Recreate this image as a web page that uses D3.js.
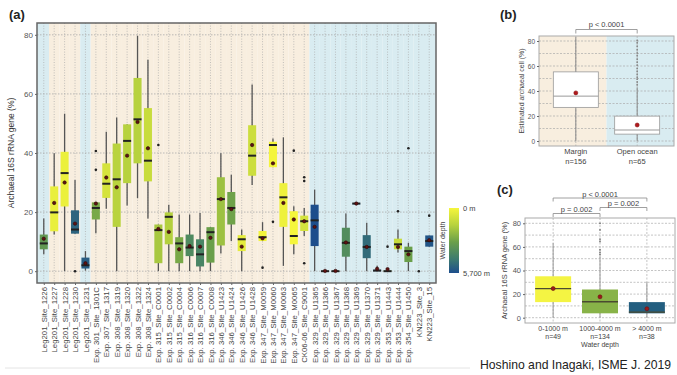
<!DOCTYPE html>
<html>
<head>
<meta charset="utf-8">
<script src="https://cdn.jsdelivr.net/npm/d3@7"></script>
<style>
  body { margin: 0; background: #fff; }
  text { font-family: "Liberation Sans", Arial, sans-serif; }
</style>
</head>
<body>
<svg id="chart" width="677" height="375"></svg>
<script>
// ---- panel (a) data: one entry per site ----
const sites = ["Leg201_Site_1226", "Leg201_Site_1227", "Leg201_Site_1228", "Leg201_Site_1230", "Leg201_Site_1231",
  "Exp. 301_Site_1301C", "Exp. 307_Site_1317", "Exp. 308_Site_1319", "Exp. 308_Site_1320", "Exp. 308_Site_1322",
  "Exp. 308_Site_1324", "Exp. 315_Site_C0001", "Exp. 315_Site_C0002", "Exp. 315_Site_C0004", "Exp. 316_Site_C0006",
  "Exp. 316_Site_C0007", "Exp. 316_Site_C0008", "Exp. 346_Site_U1423", "Exp. 346_Site_U1424", "Exp. 346_Site_U1426",
  "Exp. 346_Site_U1428", "Exp. 347_Site_M0059", "Exp. 347_Site_M0060", "Exp. 347_Site_M0063", "Exp. 347_Site_M0065",
  "CK06-06_Site_C9001", "Exp. 329_Site_U1365", "Exp. 329_Site_U1366", "Exp. 329_Site_U1367", "Exp. 329_Site_U1368",
  "Exp. 329_Site_U1369", "Exp. 329_Site_U1370", "Exp. 329_Site_U1371", "Exp. 353_Site_U1443", "Exp. 353_Site_U1444",
  "Exp. 354_Site_U1450", "KN223_Site_3", "KN223_Site_15"];
const siteRegion = ["ocean", "margin", "margin", "margin", "ocean",
  "margin", "margin", "margin", "margin", "margin", "margin", "margin", "margin", "margin", "margin",
  "margin", "margin", "margin", "margin", "margin", "margin", "margin", "margin", "margin", "margin", "margin",
  "ocean", "ocean", "ocean", "ocean", "ocean", "ocean", "ocean", "ocean", "ocean", "ocean", "ocean", "ocean"];
const siteDepth = [3300, 300, 260, 5090, 5300, 2700, 780, 1450, 1500, 1500, 1100, 1800, 1550, 2700, 3870,
  4050, 3000, 2000, 2900, 400, 1000, 37, 40, 200, 20, 800, 5695, 5100, 4300, 3740, 5300, 4900, 5300, 2900,
  1100, 3000, 5000, 5500];
const siteLow = [5.7, 12.4, 0, 12.7, 0.2, 12.8, 21.1, 0, 22.2, 24.7, 17.8, 0, 0, 0, 0, 0, 0, 6, 10.2, 0,
  29.2, 10.2, 35.2, 1.8, 5.7, 11.9, 0, 0, 0, 0, 22.9, 0, 0, 0, 6.3, 0, null, 8.3];
const siteQ1 = [7.4, 13.5, 21.9, 12.7, 0.9, 17.5, 24.8, 15, 29.8, 36.5, 30.4, 2.7, 9.1, 2.7, 5.1, 1.6, 2.9, 8.7, 15.8, 6.8,
  32.3, 10.2, 35.2, 15, 9.1, 13.6, 8.5, 0, 0, 4.9, 22.9, 4.4, 0, 0, 7.4, 3.1, null, 8.3];
const siteMedian = [9.4, 19.9, 33.2, 14.1, 2, 21.4, 29.6, 31.1, 44.1, 51.4, 37.4, 13.9, 18.4, 9.4, 8, 5.7, 13.2, 24.4, 21.4, 10.8,
  39.1, 11.5, 42.7, 25, 11.9, 16.9, 17.2, 0, 0, 9.6, 22.9, 8.2, 0.2, 0, 9.1, 6.8, null, 10.2];
const siteQ3 = [12.4, 28.7, 40.4, 20.6, 4.6, 23.3, 36.5, 43.2, 49.7, 65.4, 55.2, 15.8, 19.9, 11.5, 12.4, 10.8, 14.9, 31.8, 26.8, 12.2,
  49.4, 13.6, 43.8, 29.8, 20.3, 18.8, 22.5, 0, 0, 14.7, 22.9, 12.2, 0.5, 0.2, 11, 8.3, null, 12.1];
const siteHigh = [17.8, 39.9, 53.3, 30.9, 6.8, 23.3, 47.2, 52, 49.7, 79.7, 71.6, 15.8, 22.5, 19.2, 19.2, 19.7, 14.9, 39.9, 32.6, 14.1,
  63.2, 16.6, 44.9, 45.3, 22, 21.4, 27.6, 0, 0, 19.5, 22.9, 16.4, 1.8, 0.2, 14.1, 9.6, null, 12.1];
const siteMean = [11, 23.1, 30, 16.1, 2.7, 22.9, 31.7, 28.4, 39.1, 50.5, 41.6, 14.3, 13.3, 7.4, 8.5, 8.3, 11.3, 24.4, 21, 8.3,
  42.7, 11.1, 36.5, 23.1, 17.5, 16.9, 15, 0.1, 0.1, 9.7, 22.9, 8.2, 0.8, 0.7, 8.2, 5.7, null, 10.5];
const siteOutliers = [[], [], [], [0], [], [40.7, 34.3], [], [], [], [], [], [42.7], [], [], [], [], [], [], [], [],
  [], [1.2], [16.7], [], [40.8], [30.5, 31.8, 2.7], [], [], [], [], [], [], [], [8.3], [20.3], [41.6], [0], [18.8]];

// ---- panel (b) data ----
const bGroups = ["Margin", "Open ocean"];
const bCounts = ["n=156", "n=65"];
const bLow = [0, 0];
const bQ1 = [26.9, 5.5];
const bMedian = [35.9, 8.8];
const bQ3 = [55.3, 19.9];
const bHigh = [83, 43];
const bMean = [38.5, 12.8];
const bOutliers = [[], [45, 47.2, 49.5, 51, 53.4, 55.8, 58.1, 60.6, 63, 65.5, 68.2, 70.4, 73.1, 75.9, 78.6, 80.5]];

// ---- panel (c) data ----
const cGroups = ["0-1000 m", "1000-4000 m", "> 4000 m"];
const cCounts = ["n=49", "n=134", "n=38"];
const cLow = [0, 0, 0];
const cQ1 = [13.2, 3.7, 3.7];
const cMedian = [24.7, 13.5, 4.8];
const cQ3 = [35.1, 23.9, 13.2];
const cHigh = [63.2, 52, 30];
const cMean = [24.7, 17.7, 7.6];
const cOutliers = [[], [53.4, 55.3, 57.6, 64.6, 66.6, 74.4, 80], []];
const cFill = ["#f4f443", "#88b348", "#235e80"];

const yTicks = [0, 20, 40, 60, 80];

const svg = d3.select("#chart");
const beige = "#f8eedf", blue = "#d9ecf1";

const depthColor = d3.scaleLinear()
  .domain([0, 1500, 3000, 4500, 5700])
  .range(["#f6f63c", "#b7d23e", "#6a9f4a", "#3c7a70", "#1d4e8c"]);

function drawBox(g, cx, w, y, s, st) {
  const b = g.append("g");
  b.append("line").attr("x1", cx).attr("x2", cx)
    .attr("y1", y(s.lo)).attr("y2", y(s.hi))
    .attr("stroke", st.whisker).attr("stroke-width", st.whiskerWidth);
  b.append("rect").attr("x", cx - w / 2).attr("width", w)
    .attr("y", y(s.q3)).attr("height", Math.max(y(s.q1) - y(s.q3), 0.8))
    .attr("fill", st.fill).attr("stroke", st.boxStroke || "none").attr("stroke-width", 0.8);
  b.append("line").attr("x1", cx - w / 2).attr("x2", cx + w / 2)
    .attr("y1", y(s.med)).attr("y2", y(s.med))
    .attr("stroke", st.median).attr("stroke-width", st.medianWidth);
  b.selectAll("circle.out").data(s.out).join("circle").attr("class", "out")
    .attr("cx", cx).attr("cy", d => y(d)).attr("r", st.outR).attr("fill", st.outFill);
  b.append("circle").attr("cx", cx).attr("cy", y(s.mean)).attr("r", st.meanR)
    .attr("fill", st.meanFill).attr("stroke", st.meanStroke).attr("stroke-width", 0.6);
}

function styleAxis(g, size) {
  g.select(".domain").remove();
  g.selectAll(".tick line").attr("stroke", "#666");
  g.selectAll(".tick text").attr("fill", "#555").attr("font-size", size);
}

// =================== panel (a) ===================
const A = { l: 37, r: 436, t: 23, b: 283 };
const xA = d3.scalePoint().domain(sites).range([A.l, A.r]).padding(0.65);
const yA = d3.scaleLinear().domain([-4, 84]).range([A.b, A.t]);
const stepA = xA.step();
const gA = svg.append("g");

gA.selectAll("rect.bg").data(sites).join("rect").attr("class", "bg")
  .attr("x", (d, i) => i === 0 ? A.l : xA(d) - stepA / 2)
  .attr("width", (d, i) => {
    const left = i === 0 ? A.l : xA(d) - stepA / 2;
    const right = i === sites.length - 1 ? A.r : xA(d) + stepA / 2;
    return right - left;
  })
  .attr("y", A.t).attr("height", A.b - A.t)
  .attr("fill", (d, i) => siteRegion[i] === "ocean" ? blue : beige);

gA.selectAll("line.vg").data(sites).join("line").attr("class", "vg")
  .attr("x1", d => xA(d)).attr("x2", d => xA(d)).attr("y1", A.t).attr("y2", A.b)
  .attr("stroke", "#a9a9a9").attr("stroke-width", 0.7).attr("stroke-dasharray", "1,1.6");
gA.selectAll("line.hg").data(yTicks).join("line").attr("class", "hg")
  .attr("x1", A.l).attr("x2", A.r).attr("y1", d => yA(d)).attr("y2", d => yA(d))
  .attr("stroke", "#a9a9a9").attr("stroke-width", 0.8).attr("stroke-dasharray", "1.5,1.5");

sites.forEach((s, i) => {
  const st = {
    whisker: "#555", whiskerWidth: 1.3, fill: depthColor(siteDepth[i]),
    median: "#222", medianWidth: 2, outR: 1.3, outFill: "#222",
    meanR: 1.7, meanFill: "#5e1212", meanStroke: "#2a0808"
  };
  if (siteMedian[i] === null) {
    siteOutliers[i].forEach(v => gA.append("circle").attr("cx", xA(s)).attr("cy", yA(v))
      .attr("r", 1.3).attr("fill", "#222"));
    return;
  }
  drawBox(gA, xA(s), stepA * 0.77, yA, {
    lo: siteLow[i], q1: siteQ1[i], med: siteMedian[i], q3: siteQ3[i], hi: siteHigh[i],
    mean: siteMean[i], out: siteOutliers[i]
  }, st);
});

gA.append("rect").attr("x", A.l).attr("y", A.t).attr("width", A.r - A.l).attr("height", A.b - A.t)
  .attr("fill", "none").attr("stroke", "#666").attr("stroke-width", 1.5);

const axA = gA.append("g").attr("transform", `translate(${A.l},0)`)
  .call(d3.axisLeft(yA).tickValues(yTicks).tickSize(2).tickPadding(2));
styleAxis(axA, 8);

const axAx = gA.append("g").attr("transform", `translate(0,${A.b})`)
  .call(d3.axisBottom(xA).tickSize(2));
axAx.select(".domain").remove();
axAx.selectAll(".tick line").attr("stroke", "#666");
axAx.selectAll(".tick text")
  .attr("transform", "rotate(-90)").attr("text-anchor", "end")
  .attr("x", -4).attr("y", 0).attr("dy", "0.33em")
  .attr("fill", "#444").attr("font-size", 7.8);

gA.append("text").attr("transform", `translate(14,${(A.t + A.b) / 2}) rotate(-90)`)
  .attr("text-anchor", "middle").attr("font-size", 8.5).attr("fill", "#333")
  .text("Archaeal 16S rRNA gene (%)");
gA.append("text").attr("x", 9).attr("y", 19).attr("font-size", 13).attr("font-weight", "bold")
  .attr("fill", "#222").text("(a)");

// separator line under the labels
svg.append("line").attr("x1", 5).attr("x2", 470).attr("y1", 368).attr("y2", 368)
  .attr("stroke", "#e4e4e4").attr("stroke-width", 1);

// colour legend
const defs = svg.append("defs");
const grad = defs.append("linearGradient").attr("id", "depthGrad")
  .attr("x1", 0).attr("x2", 0).attr("y1", 0).attr("y2", 1);
depthColor.domain().forEach(d => grad.append("stop")
  .attr("offset", d / 5700).attr("stop-color", depthColor(d)));
const L = { x: 449, y: 208, w: 10, h: 65 };
svg.append("rect").attr("x", L.x).attr("y", L.y).attr("width", L.w).attr("height", L.h)
  .attr("fill", "url(#depthGrad)");
svg.append("text").attr("x", L.x + L.w + 4).attr("y", L.y + 3).attr("font-size", 7.5)
  .attr("fill", "#444").text("0 m");
svg.append("text").attr("x", L.x + L.w + 4).attr("y", L.y + L.h + 3).attr("font-size", 7.5)
  .attr("fill", "#444").text("5,700 m");
svg.append("text").attr("transform", `translate(${L.x - 4},${L.y + L.h / 2}) rotate(-90)`)
  .attr("text-anchor", "middle").attr("font-size", 7).attr("fill", "#444").text("Water depth");

// =================== panel (b) ===================
const B = { l: 539, r: 674, t: 36, b: 146 };
const xB = d3.scalePoint().domain(bGroups).range([B.l, B.r]).padding(0.6);
const yB = d3.scaleLinear().domain([-4, 84]).range([B.b, B.t]);
const gB = svg.append("g");
const midB = (xB(bGroups[0]) + xB(bGroups[1])) / 2;
gB.append("rect").attr("x", B.l).attr("y", B.t).attr("width", midB - B.l).attr("height", B.b - B.t).attr("fill", beige);
gB.append("rect").attr("x", midB).attr("y", B.t).attr("width", B.r - midB).attr("height", B.b - B.t).attr("fill", blue);
gB.selectAll("line.hg").data(d3.range(0, 81, 10)).join("line").attr("class", "hg")
  .attr("x1", B.l).attr("x2", B.r).attr("y1", d => yB(d)).attr("y2", d => yB(d))
  .attr("stroke", "#aaa").attr("stroke-width", 0.7).attr("stroke-dasharray", "2,1.5");
gB.selectAll("line.vg").data(bGroups).join("line").attr("class", "vg")
  .attr("x1", d => xB(d)).attr("x2", d => xB(d)).attr("y1", B.t).attr("y2", B.b)
  .attr("stroke", "#aaa").attr("stroke-width", 0.7).attr("stroke-dasharray", "2,1.5");
bGroups.forEach((g, i) => {
  drawBox(gB, xB(g), 45, yB, {
    lo: bLow[i], q1: bQ1[i], med: bMedian[i], q3: bQ3[i], hi: bHigh[i], mean: bMean[i], out: bOutliers[i]
  }, {
    whisker: "#888", whiskerWidth: 1, fill: "#fff", boxStroke: "#999",
    median: "#999", medianWidth: 1, outR: 0.9, outFill: "#888",
    meanR: 2, meanFill: "#b0191c", meanStroke: "#8a1214"
  });
});
gB.append("rect").attr("x", B.l).attr("y", B.t).attr("width", B.r - B.l).attr("height", B.b - B.t)
  .attr("fill", "none").attr("stroke", "#aaa").attr("stroke-width", 1);
const axB = gB.append("g").attr("transform", `translate(${B.l},0)`)
  .call(d3.axisLeft(yB).tickValues(yTicks).tickSize(2).tickPadding(2));
styleAxis(axB, 6.5);
bGroups.forEach((g, i) => {
  gB.append("text").attr("x", xB(g)).attr("y", 154).attr("text-anchor", "middle")
    .attr("font-size", 7.5).attr("fill", "#444").text(g);
  gB.append("text").attr("x", xB(g)).attr("y", 163.5).attr("text-anchor", "middle")
    .attr("font-size", 7.5).attr("fill", "#444").text(bCounts[i]);
});
gB.append("path")
  .attr("d", `M${xB(bGroups[0])},33.5V29.5H${xB(bGroups[1])}V33.5`)
  .attr("fill", "none").attr("stroke", "#888").attr("stroke-width", 0.8);
gB.append("text").attr("x", midB).attr("y", 26.5).attr("text-anchor", "middle")
  .attr("font-size", 7.5).attr("fill", "#444").text("p < 0.0001");
gB.append("text").attr("transform", `translate(524,${(B.t + B.b) / 2}) rotate(-90)`)
  .attr("text-anchor", "middle").attr("font-size", 7).attr("fill", "#444")
  .text("Estimated archaeal cell (%)");
gB.append("text").attr("x", 500).attr("y", 19).attr("font-size", 13).attr("font-weight", "bold")
  .attr("fill", "#222").text("(b)");

// =================== panel (c) ===================
const C = { l: 525, r: 675, t: 218, b: 323 };
const xC = d3.scalePoint().domain(cGroups).range([C.l, C.r]).padding(0.6);
const yC = d3.scaleLinear().domain([-4.5, 84.5]).range([C.b, C.t]);
const gC = svg.append("g");
gC.append("rect").attr("x", C.l).attr("y", C.t).attr("width", C.r - C.l).attr("height", C.b - C.t).attr("fill", "#fff");
gC.selectAll("line.hg").data(d3.range(0, 81, 10)).join("line").attr("class", "hg")
  .attr("x1", C.l).attr("x2", C.r).attr("y1", d => yC(d)).attr("y2", d => yC(d))
  .attr("stroke", "#aaa").attr("stroke-width", 0.7).attr("stroke-dasharray", "2,1.5");
gC.selectAll("line.vg").data(cGroups).join("line").attr("class", "vg")
  .attr("x1", d => xC(d)).attr("x2", d => xC(d)).attr("y1", C.t).attr("y2", C.b)
  .attr("stroke", "#aaa").attr("stroke-width", 0.7).attr("stroke-dasharray", "2,1.5");
cGroups.forEach((g, i) => {
  drawBox(gC, xC(g), 36, yC, {
    lo: cLow[i], q1: cQ1[i], med: cMedian[i], q3: cQ3[i], hi: cHigh[i], mean: cMean[i], out: cOutliers[i]
  }, {
    whisker: "#999", whiskerWidth: 1, fill: cFill[i],
    median: "#4a4a30", medianWidth: 1.3, outR: 0.9, outFill: "#777",
    meanR: 2, meanFill: "#9a1a1a", meanStroke: "#6a1010"
  });
});
gC.append("rect").attr("x", C.l).attr("y", C.t).attr("width", C.r - C.l).attr("height", C.b - C.t)
  .attr("fill", "none").attr("stroke", "#aaa").attr("stroke-width", 1);
const axC = gC.append("g").attr("transform", `translate(${C.l},0)`)
  .call(d3.axisLeft(yC).tickValues(yTicks).tickSize(2).tickPadding(2));
styleAxis(axC, 7.5);
cGroups.forEach((g, i) => {
  gC.append("text").attr("x", xC(g)).attr("y", 331).attr("text-anchor", "middle")
    .attr("font-size", 7).attr("fill", "#444").text(g);
  gC.append("text").attr("x", xC(g)).attr("y", 338.5).attr("text-anchor", "middle")
    .attr("font-size", 7).attr("fill", "#444").text(cCounts[i]);
});
gC.append("text").attr("x", xC(cGroups[1])).attr("y", 346.5).attr("text-anchor", "middle")
  .attr("font-size", 7).attr("fill", "#444").text("Water depth");
gC.append("text").attr("transform", `translate(507,${(C.t + C.b) / 2}) rotate(-90)`)
  .attr("text-anchor", "middle").attr("font-size", 7.5).attr("fill", "#444")
  .text("Archaeal 16S rRNA gene (%)");
gC.append("text").attr("x", 497).attr("y", 194).attr("font-size", 13).attr("font-weight", "bold")
  .attr("fill", "#222").text("(c)");

// significance brackets
const brackets = [
  { a: 0, b: 2, y: 198, label: "p < 0.0001" },
  { a: 1, b: 2, y: 207.5, label: "p = 0.002" },
  { a: 0, b: 1, y: 213.5, label: "p = 0.002" }
];
brackets.forEach(br => {
  const x1 = xC(cGroups[br.a]), x2 = xC(cGroups[br.b]);
  gC.append("path").attr("d", `M${x1},${br.y + 3.5}V${br.y}H${x2}V${br.y + 3.5}`)
    .attr("fill", "none").attr("stroke", "#888").attr("stroke-width", 0.8);
  gC.append("text").attr("x", (x1 + x2) / 2).attr("y", br.y - 1.5).attr("text-anchor", "middle")
    .attr("font-size", 7.5).attr("fill", "#444").text(br.label);
});

// citation
svg.append("text").attr("x", 480).attr("y", 369).attr("font-size", 12.2).attr("fill", "#222")
  .text("Hoshino and Inagaki, ISME J. 2019");
</script>
</body>
</html>
